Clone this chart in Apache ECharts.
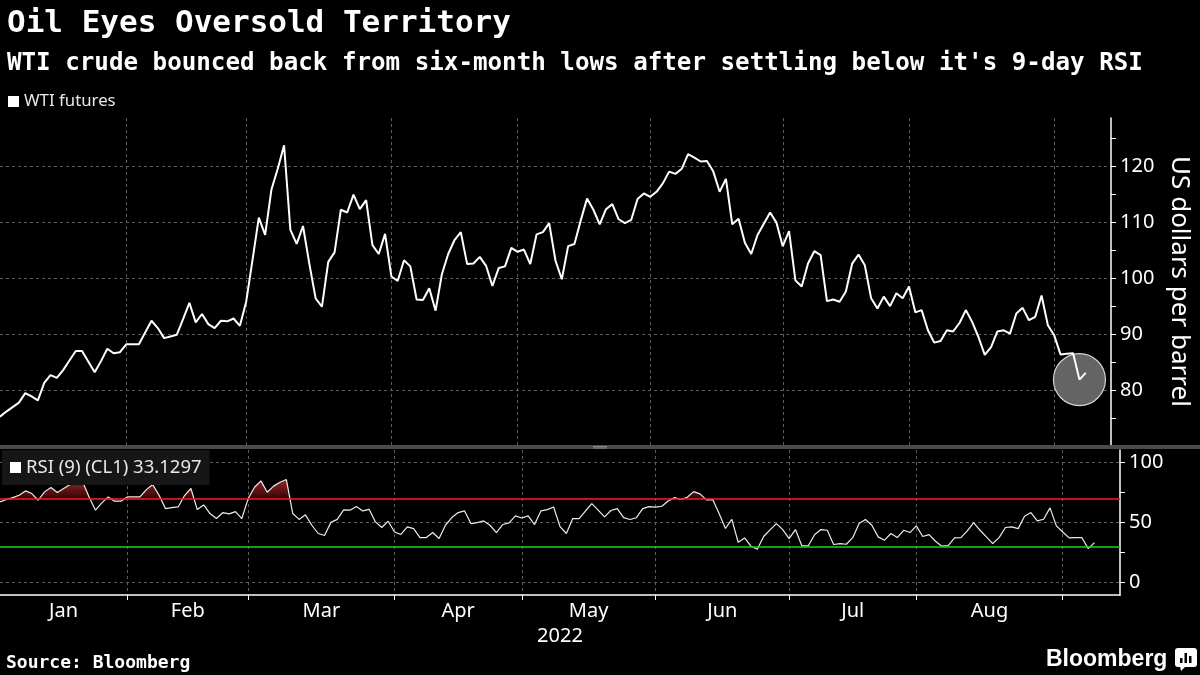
<!DOCTYPE html>
<html>
<head>
<meta charset="utf-8">
<script src="https://cdn.jsdelivr.net/npm/echarts@6/dist/echarts.min.js"></script>
<style>
html,body{margin:0;padding:0;background:#000;}
#c{width:1200px;height:675px;}
</style>
</head>
<body>
<div id="c"></div>
<script>
// WTI generic front-month settles, one per trading session, 2021-12-31 .. 2022-09-08
const wti = [
  75.3, 76.2, 77.0, 77.8, 79.5, 78.9, 78.2, 81.3, 82.7, 82.2,
  83.6, 85.3, 87.0, 87.0, 85.1, 83.2, 85.2, 87.4, 86.6, 86.8,
  88.2, 88.2, 88.2, 90.3, 92.4, 91.1, 89.3, 89.6, 89.9, 92.7,
  95.6, 92.1, 93.6, 91.8, 91.1, 92.4, 92.3, 92.8, 91.5, 95.8,
  103.2, 110.8, 107.7, 115.8, 119.5, 123.7, 108.6, 106.1, 109.3, 102.6,
  96.4, 94.9, 102.9, 104.6, 112.2, 111.7, 114.9, 112.3, 113.9, 105.9,
  104.3, 107.9, 100.3, 99.5, 103.2, 102.1, 96.2, 96.1, 98.2, 94.2,
  100.7, 104.3, 106.8, 108.2, 102.5, 102.6, 103.8, 102.2, 98.6, 101.8,
  102.1, 105.4, 104.7, 105.1, 102.5, 107.8, 108.2, 109.8, 103.1, 99.8,
  105.7, 106.1, 110.3, 114.2, 112.2, 109.6, 112.3, 113.2, 110.5, 109.8,
  110.4, 114.1, 115.1, 114.5, 115.4, 116.9, 119.0, 118.6, 119.5, 122.1,
  121.5, 120.8, 120.9, 119.0, 115.4, 117.7, 109.6, 110.6, 106.3, 104.3,
  107.7, 109.7, 111.7, 109.9, 105.7, 108.4, 99.6, 98.5, 102.6, 104.8,
  104.1, 95.9, 96.2, 95.8, 97.6, 102.6, 104.2, 102.3, 96.4, 94.6,
  96.7, 95.0, 97.3, 96.4, 98.5, 93.9, 94.3, 90.7, 88.5, 88.8,
  90.7, 90.5, 92.0, 94.3, 92.2, 89.5, 86.3, 87.7, 90.5, 90.7,
  90.1, 93.7, 94.7, 92.5, 93.1, 96.9, 91.6, 89.8, 86.4, 86.5,
  86.6, 81.9, 83.1
];
// RSI (9) of CL1, same sessions
const rsi = [
  67.2, 69.2, 70.8, 72.8, 76.4, 74.2, 68.6, 75.6, 79.2, 75.0,
  78.4, 81.7, 83.9, 83.9, 71.4, 60.3, 66.4, 71.4, 67.8, 67.8,
  71.4, 71.4, 71.4, 77.5, 81.7, 72.8, 61.6, 62.5, 63.0, 72.5,
  78.4, 60.8, 64.7, 57.5, 53.3, 58.2, 57.2, 59.1, 53.3, 70.0,
  79.5, 84.8, 75.3, 80.4, 83.6, 85.9, 57.5, 52.6, 56.4, 47.7,
  40.8, 39.1, 50.1, 52.6, 60.5, 60.3, 63.4, 59.7, 61.0, 50.5,
  45.8, 51.1, 42.1, 40.0, 46.3, 44.9, 37.4, 37.4, 41.6, 36.6,
  47.7, 54.1, 58.3, 59.7, 49.1, 49.9, 51.3, 47.7, 41.6, 48.3,
  49.7, 55.5, 53.8, 55.5, 48.3, 59.7, 60.8, 63.0, 46.6, 40.8,
  53.3, 53.3, 59.6, 65.8, 60.3, 54.7, 60.0, 61.6, 54.1, 52.5,
  54.0, 61.6, 63.3, 62.8, 63.6, 67.9, 70.8, 69.2, 71.1, 75.8,
  73.9, 68.9, 69.2, 57.5, 45.0, 52.6, 33.5, 37.1, 30.2, 27.7,
  38.3, 43.8, 49.1, 44.0, 36.6, 44.1, 30.5, 30.4, 39.8, 44.1,
  43.5, 31.6, 32.4, 31.8, 37.3, 49.1, 52.5, 47.7, 38.0, 35.2,
  40.8, 37.4, 43.5, 41.6, 47.2, 38.3, 39.9, 34.3, 30.2, 30.7,
  37.1, 37.4, 43.0, 49.9, 43.5, 38.0, 32.4, 37.4, 45.8, 46.3,
  44.9, 55.2, 58.3, 51.3, 52.7, 62.2, 47.2, 42.1, 37.1, 37.4,
  37.4, 28.2, 33.1297
];
const monthNames = ['Jan', 'Feb', 'Mar', 'Apr', 'May', 'Jun', 'Jul', 'Aug'];
// session index of the last trading day of each month (Jan ... Aug); index 0 = 2021-12-31
const monthEndIndex = [20, 39, 62, 82, 103, 124, 144, 167];
const lastAxisIndex = 176;           // axis runs on to 2022-09-14
const highlightIndex = 171;          // 2022-09-07, six-month low
const priceLabels = [80, 90, 100, 110, 120];
const priceTicks = [75, 80, 85, 90, 95, 100, 105, 110, 115, 120, 125];
const rsiLabels = [0, 50, 100];
const rsiTicks = [0, 25, 50, 75, 100];
const rsiOverbought = 70;
const rsiOversold = 30;
const yearLabel = '2022';

const GRID = '#5e5e5e';
const CLEAR = 'rgba(0,0,0,0)';
const SANS = 'Noto Sans';
const MONO = 'DejaVu Sans Mono';

const bounds = [0].concat(monthEndIndex);
const monthMid = monthNames.map((m, k) => (bounds[k] + bounds[k + 1]) / 2);
const pairs = arr => arr.map((v, i) => [i, v]);
const rsiName = 'RSI (9) (CL1) ' + rsi[rsi.length - 1];

function mix(a, b, t) {
  const pa = [1, 3, 5].map(k => parseInt(a.substr(k, 2), 16));
  const pb = [1, 3, 5].map(k => parseInt(b.substr(k, 2), 16));
  return 'rgb(' + pa.map((v, k) => Math.round(v + (pb[k] - v) * t)).join(',') + ')';
}
const fillPieces = [{ lt: rsiOverbought, color: CLEAR }];
for (let v = rsiOverbought; v < 90; v++) {
  fillPieces.push({ gte: v, lt: v + 1, color: mix('#380606', '#962828', Math.min(1, (v - rsiOverbought) / 16)) });
}
fillPieces.push({ gte: 90, color: '#962828' });

const chart = echarts.init(document.getElementById('c'), null, { renderer: 'canvas' });

const option = {
  backgroundColor: '#000',
  animation: false,
  title: [
    { text: 'Oil Eyes Oversold Territory', left: 2, top: 3,
      textStyle: { color: '#fff', fontFamily: MONO, fontWeight: 'bold', fontSize: 31 } },
    { text: "WTI crude bounced back from six-month lows after settling below it's 9-day RSI", left: 2, top: 47,
      textStyle: { color: '#fff', fontFamily: MONO, fontWeight: 'bold', fontSize: 24.2 } },
    { text: 'Source: Bloomberg', left: 1, top: 649,
      textStyle: { color: '#fff', fontFamily: MONO, fontWeight: 'bold', fontSize: 18 } }
  ],
  legend: [
    { data: ['WTI futures'], left: 3, top: 90, icon: 'rect', itemWidth: 11, itemHeight: 11,
      selectedMode: false, padding: [3, 5],
      textStyle: { color: '#e8e8e8', fontFamily: SANS, fontSize: 16.8 } },
    { data: [rsiName], left: 2, top: 450, icon: 'rect', itemWidth: 11, itemHeight: 11,
      selectedMode: false, backgroundColor: '#161616', padding: [8, 8, 8, 8],
      textStyle: { color: '#e8e8e8', fontFamily: SANS, fontSize: 18.5 } }
  ],
  grid: [
    { left: 0, right: 80, top: 118, height: 327 },
    { left: 0, right: 80, top: 450, height: 145 }
  ],
  xAxis: [
    { gridIndex: 0, type: 'value', min: 0, max: lastAxisIndex,
      axisLine: { show: false, onZero: false },
      axisTick: { show: false, customValues: monthEndIndex },
      axisLabel: { show: false },
      splitLine: { show: true, lineStyle: { color: GRID, type: [3, 3], width: 1 } } },
    { gridIndex: 1, type: 'value', min: 0, max: lastAxisIndex,
      name: yearLabel, nameLocation: 'middle', nameGap: 31,
      nameTextStyle: { color: '#fff', fontFamily: SANS, fontSize: 20 },
      axisLine: { show: true, onZero: false, lineStyle: { color: '#fff', width: 1.5 } },
      axisTick: { show: true, customValues: monthEndIndex, length: 5, lineStyle: { color: '#fff', width: 1 } },
      axisLabel: { show: true, customValues: monthMid, margin: 6, color: '#fff', fontFamily: SANS, fontSize: 20,
        formatter: v => { const k = monthMid.indexOf(v); return k >= 0 ? monthNames[k] : ''; } },
      splitLine: { show: true, lineStyle: { color: GRID, type: [3, 3], width: 1 } } }
  ],
  yAxis: [
    { gridIndex: 0, type: 'value', position: 'right', min: 70.24, max: 128.56,
      name: 'US dollars per barrel', nameLocation: 'middle', nameRotate: -90, nameGap: 55,
      nameTextStyle: { color: '#fff', fontFamily: SANS, fontSize: 26 },
      axisLine: { show: true, onZero: false, lineStyle: { color: '#fff', width: 1.5 } },
      axisTick: { show: true, customValues: priceTicks, length: 5, lineStyle: { color: '#fff' } },
      axisLabel: { show: true, customValues: priceLabels, margin: 9, color: '#fff', fontFamily: SANS, fontSize: 20 },
      splitLine: { show: true, lineStyle: { color: priceTicks.map(v => priceLabels.includes(v) ? GRID : CLEAR), type: [3, 3], width: 1 } } },
    { gridIndex: 1, type: 'value', position: 'right', min: -10.6, max: 110.6,
      axisLine: { show: true, onZero: false, lineStyle: { color: '#fff', width: 1.5 } },
      axisTick: { show: true, customValues: rsiTicks, length: 5, lineStyle: { color: '#fff' } },
      axisLabel: { show: true, customValues: rsiLabels, margin: 9, color: '#fff', fontFamily: SANS, fontSize: 20 },
      splitLine: { show: true, lineStyle: { color: rsiTicks.map(v => rsiLabels.includes(v) ? GRID : CLEAR), type: [3, 3], width: 1 } } }
  ],
  visualMap: [
    { type: 'piecewise', show: false, seriesIndex: 2, dimension: 1, pieces: fillPieces }
  ],
  series: [
    { name: 'WTI futures', type: 'line', xAxisIndex: 0, yAxisIndex: 0, data: pairs(wti),
      symbol: 'none', showSymbol: false, z: 3,
      lineStyle: { color: '#fff', width: 2 }, itemStyle: { color: '#fff' } },
    { name: 'six-month low', type: 'scatter', xAxisIndex: 0, yAxisIndex: 0,
      data: [[highlightIndex, wti[highlightIndex]]], symbolSize: 52, z: 2, silent: true,
      itemStyle: { color: '#646464', borderColor: '#d4d4d4', borderWidth: 1.2, opacity: 1 } },
    { name: 'RSI fill', type: 'line', xAxisIndex: 1, yAxisIndex: 1, data: pairs(rsi),
      symbol: 'none', showSymbol: false, z: 1, silent: true,
      lineStyle: { opacity: 0, width: 0 }, areaStyle: { opacity: 1, origin: rsiOverbought } },
    { name: rsiName, type: 'line', xAxisIndex: 1, yAxisIndex: 1, data: pairs(rsi),
      symbol: 'none', showSymbol: false, z: 3,
      lineStyle: { color: '#ececec', width: 1.2 }, itemStyle: { color: '#fff' },
      markLine: { silent: true, symbol: ['none', 'none'], label: { show: false },
        data: [
          { yAxis: rsiOverbought, lineStyle: { color: '#ff1a1a', width: 1.6, type: 'solid' } },
          { yAxis: rsiOversold, lineStyle: { color: '#1ed41e', width: 1.6, type: 'solid' } }
        ] } }
  ],
  graphic: [
    { type: 'rect', left: 0, top: 445, shape: { width: 1200, height: 4 }, style: { fill: '#4a4a4a' }, z: 50 },
    { type: 'rect', left: 593, top: 446, shape: { width: 14, height: 0.8 }, style: { fill: '#9a9a9a' }, z: 51 },
    { type: 'rect', left: 593, top: 447.6, shape: { width: 14, height: 0.8 }, style: { fill: '#9a9a9a' }, z: 51 },
    { type: 'text', left: 1046, top: 648,
      style: { text: 'Bloomberg', fill: '#fff', font: 'bold 23px "Liberation Sans"' }, z: 50 },
    { type: 'group', left: 1175, top: 648, z: 50, children: [
      { type: 'rect', shape: { x: 0, y: 0, width: 22, height: 19, r: 3 }, style: { fill: '#fff' } },
      { type: 'polygon', shape: { points: [[5, 18], [11, 18], [6, 23]] }, style: { fill: '#fff' } },
      { type: 'rect', shape: { x: 5, y: 10, width: 2.5, height: 5 }, style: { fill: '#000' } },
      { type: 'rect', shape: { x: 9.5, y: 5, width: 2.5, height: 10 }, style: { fill: '#000' } },
      { type: 'rect', shape: { x: 14, y: 8, width: 2.5, height: 7 }, style: { fill: '#000' } }
    ] }
  ]
};
chart.setOption(option);
</script>
</body>
</html>
